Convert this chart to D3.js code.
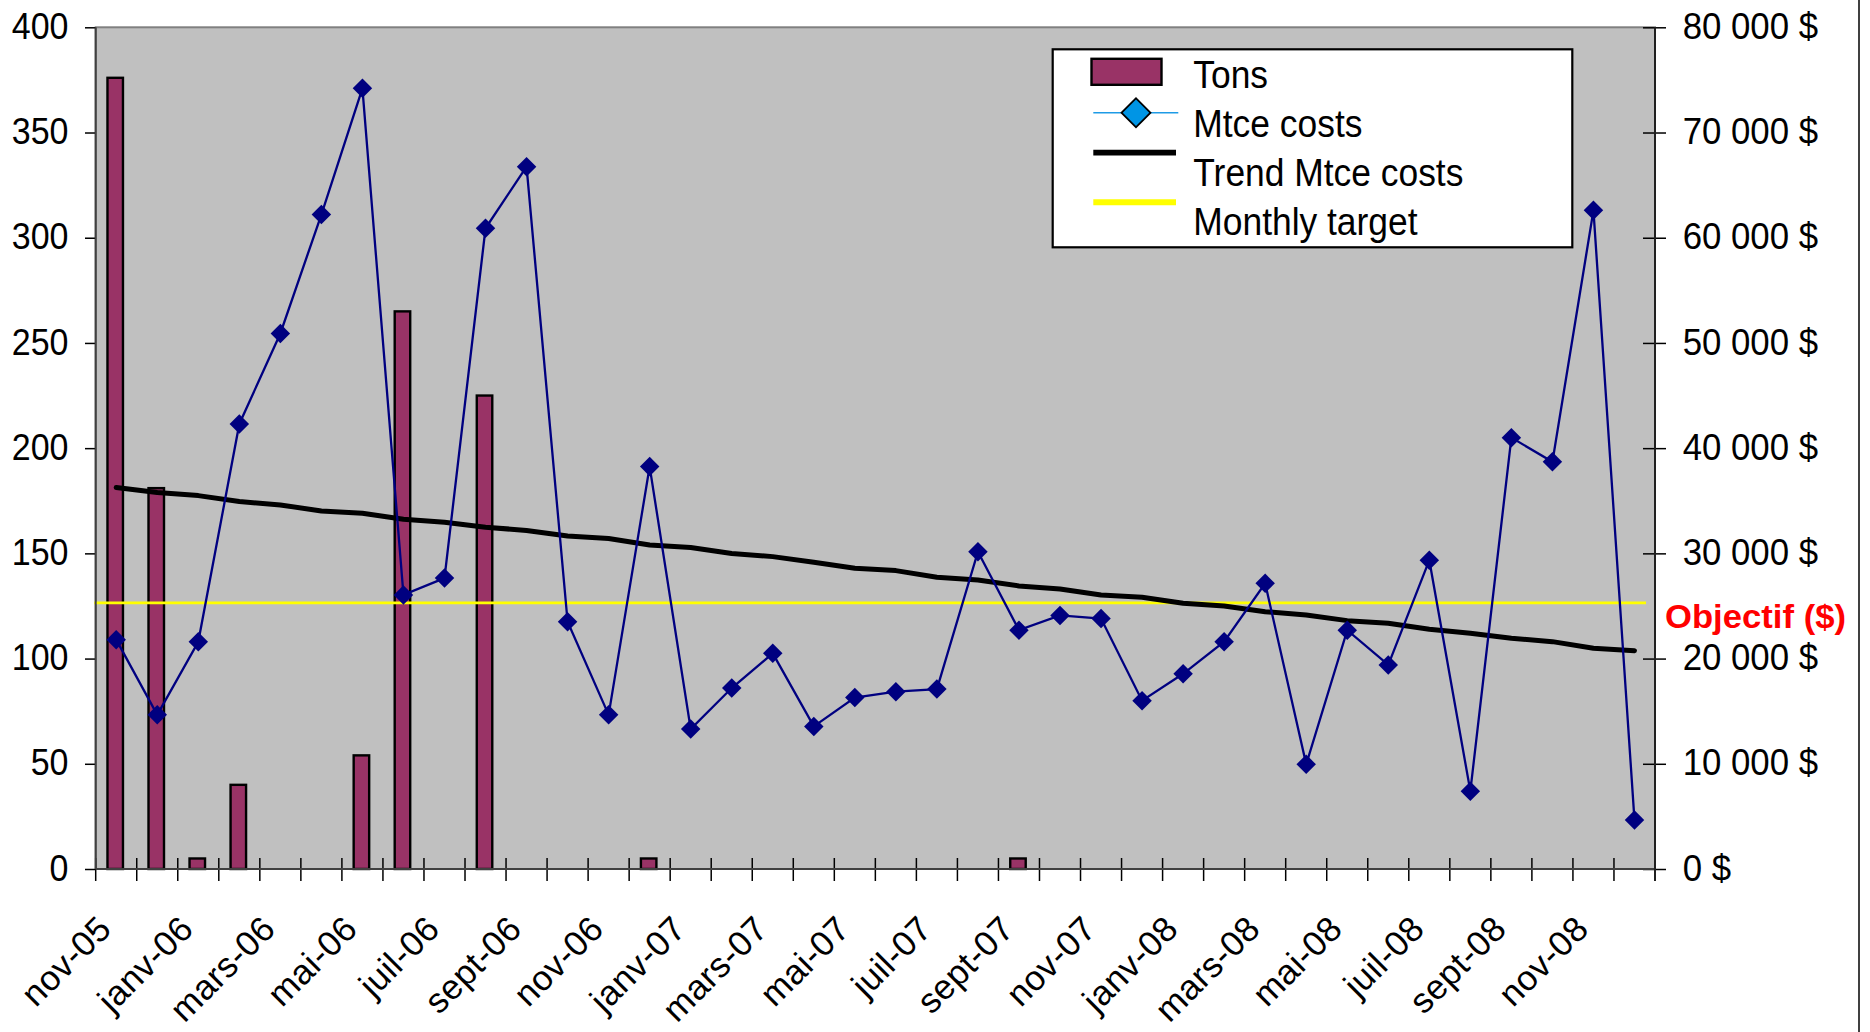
<!DOCTYPE html>
<html>
<head>
<meta charset="utf-8">
<script src="https://cdn.jsdelivr.net/npm/d3@7"></script>
<style>
  html, body { margin: 0; padding: 0; background: #ffffff; }
  svg { display: block; font-family: "Liberation Sans", Arial, sans-serif; }
</style>
</head>
<body>
<svg id="chart" width="1870" height="1032"></svg>
<script>
// Monthly categories (French short month names)
const months = ["nov-05","déc-05","janv-06","févr-06","mars-06","avr-06","mai-06","juin-06","juil-06","août-06",
  "sept-06","oct-06","nov-06","déc-06","janv-07","févr-07","mars-07","avr-07","mai-07","juin-07","juil-07","août-07",
  "sept-07","oct-07","nov-07","déc-07","janv-08","févr-08","mars-08","avr-08","mai-08","juin-08","juil-08","août-08",
  "sept-08","oct-08","nov-08","déc-08"];

// Tons per month (left axis)
const tons = [376,181,5,40,0,0,54,265,0,225,0,0,0,5,0,0,0,0,0,0,0,0,5,0,0,0,0,0,0,0,0,0,0,0,0,0,0,0];

// Maintenance costs per month, $ (right axis)
const mtceCosts = [21800,14650,21600,42300,50900,62200,74200,26050,27650,60900,66750,23500,14650,38250,13300,17200,
  20500,13550,16300,16850,17100,30150,22700,24100,23800,16000,18550,21600,27150,9950,22700,19400,29350,7400,41000,
  38700,62600,4650];

// Trend of maintenance costs, $
const trendCosts = [36250,35775,35490,34920,34605,34035,33815,33245,32960,32485,32180,31660,31420,30800,30565,29995,
  29690,29160,28590,28360,27730,27475,26905,26620,26050,25830,25260,25005,24460,24150,23605,23360,22790,22410,21935,
  21610,20980,20755];

// Monthly cost target, $
const monthlyTarget = 25300;

// Axis ticks
const tonsTicks = [0,50,100,150,200,250,300,350,400];
const costTicks = [0,10000,20000,30000,40000,50000,60000,70000,80000];
const shownMonths = months.filter((m, i) => i % 2 === 0);

// Legend entries
const legendLabels = ["Tons","Mtce costs","Trend Mtce costs","Monthly target"];
const objectiveLabel = "Objectif ($)";

const svg = d3.select("#chart");
const L = 95.7, R = 1655, T = 27.3, B = 869;

const x = d3.scaleBand().domain(months).range([L, R]).paddingInner(0).paddingOuter(0);
const yL = d3.scaleLinear().domain([0, 400]).range([B, T]);
const yR = d3.scaleLinear().domain([0, 80000]).range([B, T]);
const cx = m => x(m) + x.bandwidth() / 2;

const fr = d3.formatLocale({decimal: ",", thousands: " ", grouping: [3], currency: ["", " $"]});
const money = fr.format("$,.0f");

// Plot area background
svg.append("rect").attr("x", L).attr("y", T).attr("width", R - L).attr("height", B - T)
  .attr("fill", "#c0c0c0").attr("stroke", "#808080").attr("stroke-width", 2);

// Bars (tons)
const barW = 15.5;
svg.append("g").selectAll("rect")
  .data(months.map((m, i) => ({m, v: tons[i]})).filter(d => d.v > 0))
  .join("rect")
  .attr("x", d => cx(d.m) - barW / 2 - 1)
  .attr("y", d => yL(d.v))
  .attr("width", barW)
  .attr("height", d => yL(0) - yL(d.v))
  .attr("fill", "#993366").attr("stroke", "#000").attr("stroke-width", 2.4);

// Monthly target line
svg.append("line")
  .attr("x1", L - 1.5).attr("x2", 1646)
  .attr("y1", yR(monthlyTarget)).attr("y2", yR(monthlyTarget))
  .attr("stroke", "#ffff00").attr("stroke-width", 2.8);

// Trend line
svg.append("path")
  .datum(months.map((m, i) => [cx(m), yR(trendCosts[i])]))
  .attr("d", d3.line())
  .attr("fill", "none").attr("stroke", "#000").attr("stroke-width", 5)
  .attr("stroke-linejoin", "round").attr("stroke-linecap", "round");

// Maintenance costs line with diamond markers
const costPts = months.map((m, i) => [cx(m), yR(mtceCosts[i])]);
svg.append("path")
  .datum(costPts)
  .attr("d", d3.line())
  .attr("fill", "none").attr("stroke", "#000080").attr("stroke-width", 2.3);
const diamond = d3.symbol().type(d3.symbolSquare).size(190);
svg.append("g").selectAll("path")
  .data(costPts)
  .join("path")
  .attr("d", diamond)
  .attr("transform", d => `translate(${d[0]},${d[1]}) rotate(45)`)
  .attr("fill", "#000080");

// Left axis (tons)
const axL = svg.append("g").attr("transform", `translate(${L},0)`)
  .call(d3.axisLeft(yL).tickValues(tonsTicks).tickSizeInner(10.7).tickSizeOuter(0).tickPadding(16.5));
axL.select(".domain").remove();
axL.selectAll(".tick line").attr("stroke", "#000").attr("stroke-width", 1.5);
axL.selectAll(".tick text").attr("font-size", 34).attr("fill", "#000")
  .attr("font-family", "Liberation Sans, Arial, sans-serif")
  .attr("transform", "scale(1,1.09)").attr("dy", "0.30em");

// Right axis (costs)
const axR = svg.append("g").attr("transform", `translate(${R},0)`)
  .call(d3.axisRight(yR).tickValues(costTicks).tickFormat(money).tickSizeOuter(0));
axR.select(".domain").remove();
axR.selectAll(".tick line").attr("x1", -12).attr("x2", 11).attr("stroke", "#000").attr("stroke-width", 1.5);
axR.selectAll(".tick text").attr("x", 27.7).attr("font-size", 34.8).attr("fill", "#000")
  .attr("font-family", "Liberation Sans, Arial, sans-serif")
  .attr("transform", "scale(1,1.07)").attr("dy", "0.30em");

// Bottom axis: month labels every second category
const axB = svg.append("g").attr("transform", `translate(0,${B})`)
  .call(d3.axisBottom(x).tickValues(shownMonths).tickSize(0));
axB.select(".domain").remove();
axB.selectAll(".tick text")
  .attr("x", 0).attr("y", 0).attr("dy", 0)
  .attr("transform", "translate(-3,62) rotate(-45)")
  .attr("text-anchor", "end").attr("font-size", 35).attr("letter-spacing", 0.4).attr("fill", "#000")
  .attr("font-family", "Liberation Sans, Arial, sans-serif");

// Category boundary tick marks crossing the bottom axis
const bounds = months.map(m => x(m)).concat([R]);
svg.append("g").selectAll("line")
  .data(bounds)
  .join("line")
  .attr("x1", d => d).attr("x2", d => d)
  .attr("y1", B - 11).attr("y2", B + 12)
  .attr("stroke", "#000").attr("stroke-width", 1.5);

// Axis lines
svg.append("line").attr("x1", L).attr("x2", L).attr("y1", T).attr("y2", B).attr("stroke", "#404040").attr("stroke-width", 2);
svg.append("line").attr("x1", L).attr("x2", R).attr("y1", B).attr("y2", B).attr("stroke", "#404040").attr("stroke-width", 2);
svg.append("line").attr("x1", R).attr("x2", R).attr("y1", T).attr("y2", B + 12).attr("stroke", "#202020").attr("stroke-width", 2);

// Objective label next to the target line
svg.append("text")
  .attr("x", 1665).attr("y", 628)
  .attr("font-size", 33).attr("font-weight", "bold").attr("fill", "#ff0000")
  .attr("textLength", 181).attr("lengthAdjust", "spacingAndGlyphs")
  .text(objectiveLabel);

// Legend
const lg = svg.append("g");
lg.append("rect").attr("x", 1052.7).attr("y", 49.3).attr("width", 1572.3 - 1052.7).attr("height", 247.3 - 49.3)
  .attr("fill", "#fff").attr("stroke", "#000").attr("stroke-width", 2.2);
lg.append("rect").attr("x", 1091.5).attr("y", 58.8).attr("width", 70).attr("height", 26)
  .attr("fill", "#993366").attr("stroke", "#000").attr("stroke-width", 2.4);
lg.append("line").attr("x1", 1093.3).attr("x2", 1178.3).attr("y1", 112.7).attr("y2", 112.7)
  .attr("stroke", "#1e9be6").attr("stroke-width", 1.5);
lg.append("path").attr("d", d3.symbol().type(d3.symbolSquare).size(420))
  .attr("transform", "translate(1136,112.7) rotate(45)")
  .attr("fill", "#0095e5").attr("stroke", "#000").attr("stroke-width", 1.8);
lg.append("line").attr("x1", 1093.3).attr("x2", 1176).attr("y1", 152.7).attr("y2", 152.7)
  .attr("stroke", "#000").attr("stroke-width", 5.8);
lg.append("line").attr("x1", 1093.3).attr("x2", 1176).attr("y1", 202.3).attr("y2", 202.3)
  .attr("stroke", "#ffff00").attr("stroke-width", 6);
const baselines = [87.7, 136.5, 186, 235];
lg.selectAll("text.lab")
  .data(legendLabels)
  .join("text").attr("class", "lab")
  .attr("transform", (d, i) => `translate(1193.3,${baselines[i]}) scale(1,1.08)`)
  .attr("font-size", 35.4).attr("fill", "#000")
  .text(d => d);

// Chart frame edge on the right
svg.append("line").attr("x1", 1859).attr("x2", 1859).attr("y1", 0).attr("y2", 1032)
  .attr("stroke", "#000").attr("stroke-width", 1.5);
</script>
</body>
</html>
